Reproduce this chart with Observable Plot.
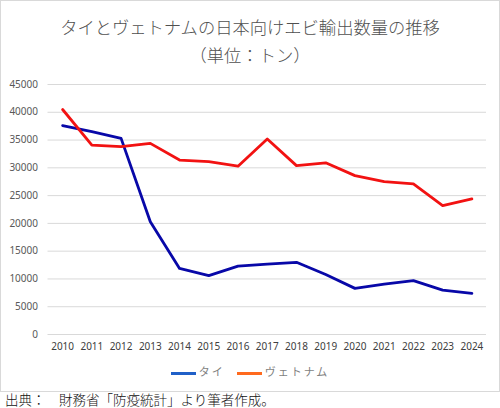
<!DOCTYPE html>
<html lang="ja">
<head>
<meta charset="UTF-8">
<title>タイとヴェトナムの日本向けエビ輸出数量の推移</title>
<script src="https://cdn.jsdelivr.net/npm/d3@7"></script>
<script src="https://cdn.jsdelivr.net/npm/@observablehq/plot@0.6"></script>
<style>
  body { margin: 0; background: #fff; font-family: "Noto Sans CJK JP", "Noto Sans", sans-serif; }
  #wrap { position: relative; width: 500px; height: 408px; overflow: hidden; }
  #box { position: absolute; left: 0; top: 0; width: 498px; height: 390px; border: 1px solid #d9d9d9; }
  #title { position: absolute; top: 13px; left: 0; width: 500px; text-align: center; color: #505050;
           font-size: 17.3px; line-height: 28px; font-weight: 300; }
  #chart { position: absolute; top: 70px; left: 0; }
  #legend { position: absolute; top: 363px; left: 0; width: 500px; text-align: center; font-size: 11px; color: #7f7f7f; letter-spacing: 2px; }
  #legend span.sw { display: inline-block; width: 25px; height: 3px; vertical-align: middle; margin-right: 3px; }
  #legend span.it { margin: 0 6px; }
  #caption { position: absolute; top: 391px; left: 5px; font-size: 13.5px; line-height: 16px; color: #111; font-weight: 300; }
</style>
</head>
<body>
<div id="wrap">
  <div id="box"></div>
  <div id="title">タイとヴェトナムの日本向けエビ輸出数量の推移<br>（単位：トン）</div>
  <div id="chart"></div>
  <div id="legend"></div>
  <div id="caption">出典：　財務省「防疫統計」より筆者作成。</div>
</div>
<script>
const years = [2010, 2011, 2012, 2013, 2014, 2015, 2016, 2017, 2018, 2019, 2020, 2021, 2022, 2023, 2024];
const thai = [37600, 36500, 35300, 20300, 11900, 10600, 12300, 12650, 13000, 10800, 8300, 9050, 9700, 8000, 7400];
const vietnam = [40500, 34100, 33800, 34400, 31400, 31100, 30300, 35200, 30400, 30900, 28600, 27500, 27100, 23200, 24400];
const yTicks = [0, 5000, 10000, 15000, 20000, 25000, 30000, 35000, 40000, 45000];

const seriesNames = ["タイ", "ヴェトナム"];
const lineColors = ["#0808a8", "#f21212"];
const legendColors = ["#2060c8", "#ff6a1e"];

const rows = [];
years.forEach((y, i) => {
  rows.push({year: y, value: thai[i], name: seriesNames[0]});
  rows.push({year: y, value: vietnam[i], name: seriesNames[1]});
});

const plot = Plot.plot({
  width: 500,
  height: 285,
  marginTop: 14,
  marginBottom: 21,
  marginLeft: 47.5,
  marginRight: 14,
  style: {fontFamily: "'Noto Sans', sans-serif", fontSize: "10px", background: "transparent"},
  x: {domain: [years[0] - 0.5, years[years.length - 1] + 0.5], axis: null},
  y: {domain: [0, 45000], axis: null},
  color: {domain: seriesNames, range: lineColors},
  marks: [
    Plot.ruleY(yTicks, {stroke: "#d9d9d9", strokeWidth: 1}),
    Plot.axisY(yTicks, {tickSize: 0, tickPadding: 10, tickFormat: d => String(d), fill: "#595959", label: null}),
    Plot.axisX(years, {tickSize: 0, tickPadding: 8, tickFormat: d => String(d), fill: "#404040", label: null}),
    Plot.line(rows, {x: "year", y: "value", z: "name", stroke: "name", strokeWidth: 2.8, strokeLinejoin: "round"})
  ]
});
document.getElementById("chart").replaceChildren(plot);

const legend = document.getElementById("legend");
seriesNames.forEach((n, i) => {
  const it = document.createElement("span");
  it.className = "it";
  it.innerHTML = `<span class="sw" style="background:${legendColors[i]}"></span>${n}`;
  legend.appendChild(it);
});
</script>
</body>
</html>
